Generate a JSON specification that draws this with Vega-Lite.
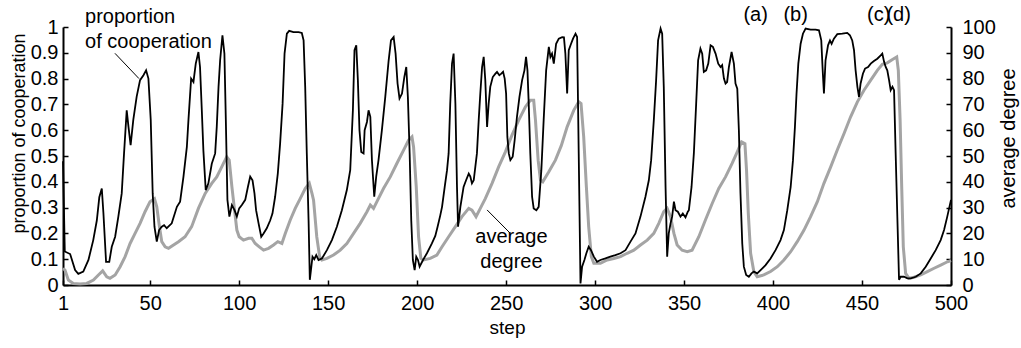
{
  "$schema": "https://vega.github.io/schema/vega-lite/v6.json",
  "width": 888,
  "height": 258,
  "autosize": {"type": "none"},
  "padding": {"left": 63, "top": 27, "right": 70, "bottom": 63},
  "background": "white",
  "config": {
    "view": {"stroke": null},
    "font": "Liberation Sans",
    "axis": {
      "labelFont": "Liberation Sans",
      "titleFont": "Liberation Sans",
      "labelFontSize": 20,
      "titleFontSize": 18,
      "titleFontWeight": "normal",
      "labelColor": "black",
      "titleColor": "black",
      "domainColor": "black",
      "tickColor": "black",
      "domainWidth": 2,
      "tickWidth": 1.5,
      "tickSize": -5,
      "grid": false,
      "labelFlush": false,
      "labelOverlap": false
    },
    "text": {"font": "Liberation Sans", "fontSize": 20, "color": "black"}
  },
  "datasets": {
    "coop": [
      {"step":1,"v":0.48},{"step":2,"v":0.13},{"step":5,"v":0.12},{"step":7.8,"v":0.058},{"step":9.6,"v":0.043},{"step":12.4,"v":0.052},{"step":15.3,"v":0.097},{"step":18,"v":0.174},{"step":20,"v":0.25},{"step":21.4,"v":0.34},{"step":22.8,"v":0.374},{"step":23.7,"v":0.28},{"step":25.2,"v":0.09},{"step":27,"v":0.09},{"step":28.4,"v":0.148},{"step":30.3,"v":0.187},{"step":32.1,"v":0.265},{"step":34,"v":0.355},{"step":35.3,"v":0.51},{"step":36.8,"v":0.677},{"step":37.8,"v":0.613},{"step":39,"v":0.542},{"step":40.5,"v":0.64},{"step":42.4,"v":0.73},{"step":44.3,"v":0.794},{"step":46.2,"v":0.813},{"step":47.7,"v":0.832},{"step":49,"v":0.8},{"step":50.3,"v":0.64},{"step":51.4,"v":0.355},{"step":52.4,"v":0.226},{"step":53.7,"v":0.168},{"step":55,"v":0.213},{"step":56.5,"v":0.226},{"step":57.8,"v":0.232},{"step":59.3,"v":0.22},{"step":62.1,"v":0.239},{"step":65,"v":0.303},{"step":66.8,"v":0.323},{"step":68.7,"v":0.42},{"step":70.6,"v":0.535},{"step":71.5,"v":0.64},{"step":73,"v":0.8},{"step":74.3,"v":0.787},{"step":75.6,"v":0.858},{"step":77.1,"v":0.903},{"step":78,"v":0.845},{"step":79,"v":0.677},{"step":79.9,"v":0.52},{"step":81.2,"v":0.368},{"step":82.7,"v":0.394},{"step":84.6,"v":0.47},{"step":86.5,"v":0.51},{"step":87.4,"v":0.613},{"step":88.4,"v":0.768},{"step":89.3,"v":0.871},{"step":90.6,"v":0.968},{"step":91.7,"v":0.897},{"step":92.5,"v":0.64},{"step":93.4,"v":0.33},{"step":94.5,"v":0.265},{"step":95.9,"v":0.31},{"step":97.4,"v":0.29},{"step":98.7,"v":0.265},{"step":100,"v":0.297},{"step":101.5,"v":0.31},{"step":103.4,"v":0.33},{"step":104.9,"v":0.38},{"step":106.2,"v":0.42},{"step":107.5,"v":0.406},{"step":108.6,"v":0.355},{"step":109.5,"v":0.29},{"step":110.9,"v":0.239},{"step":112.4,"v":0.187},{"step":113.7,"v":0.2},{"step":115.5,"v":0.22},{"step":117.4,"v":0.25},{"step":118.7,"v":0.277},{"step":120.2,"v":0.342},{"step":121.7,"v":0.432},{"step":123,"v":0.548},{"step":124.4,"v":0.703},{"step":125.5,"v":0.897},{"step":126.8,"v":0.974},{"step":128.1,"v":0.985},{"step":130.5,"v":0.98},{"step":133.4,"v":0.98},{"step":135.2,"v":0.977},{"step":136.2,"v":0.948},{"step":137.1,"v":0.768},{"step":138,"v":0.51},{"step":139,"v":0.25},{"step":139.7,"v":0.02},{"step":141.2,"v":0.11},{"step":142.2,"v":0.1},{"step":143.3,"v":0.116},{"step":144.6,"v":0.097},{"step":146.5,"v":0.103},{"step":149.3,"v":0.135},{"step":152.1,"v":0.174},{"step":154.9,"v":0.226},{"step":157.7,"v":0.29},{"step":160.5,"v":0.368},{"step":162.4,"v":0.445},{"step":163.9,"v":0.677},{"step":164.8,"v":0.91},{"step":165.8,"v":0.929},{"step":166.7,"v":0.794},{"step":167.6,"v":0.6},{"step":168.6,"v":0.516},{"step":169.9,"v":0.51},{"step":170.5,"v":0.6},{"step":171.8,"v":0.632},{"step":172.7,"v":0.677},{"step":173.7,"v":0.652},{"step":174.6,"v":0.484},{"step":175.9,"v":0.342},{"step":177,"v":0.42},{"step":178.3,"v":0.484},{"step":180.2,"v":0.6},{"step":182.1,"v":0.729},{"step":184,"v":0.871},{"step":185.3,"v":0.948},{"step":186.8,"v":0.961},{"step":187.9,"v":0.897},{"step":189,"v":0.781},{"step":190.1,"v":0.723},{"step":191.5,"v":0.742},{"step":192.8,"v":0.806},{"step":193.9,"v":0.845},{"step":194.8,"v":0.729},{"step":195.8,"v":0.51},{"step":196.7,"v":0.25},{"step":197.6,"v":0.097},{"step":198.6,"v":0.058},{"step":199.5,"v":0.11},{"step":200.5,"v":0.097},{"step":201.4,"v":0.071},{"step":203.3,"v":0.097},{"step":205.5,"v":0.123},{"step":208.3,"v":0.161},{"step":210.2,"v":0.19},{"step":211.5,"v":0.226},{"step":213,"v":0.27},{"step":214,"v":0.303},{"step":215.5,"v":0.38},{"step":216.8,"v":0.445},{"step":217.7,"v":0.51},{"step":218.6,"v":0.703},{"step":219.6,"v":0.858},{"step":220.5,"v":0.897},{"step":221.5,"v":0.703},{"step":222.4,"v":0.38},{"step":223,"v":0.226},{"step":224.3,"v":0.303},{"step":226.1,"v":0.38},{"step":227.5,"v":0.406},{"step":229,"v":0.432},{"step":229.9,"v":0.42},{"step":230.8,"v":0.394},{"step":231.8,"v":0.406},{"step":232.7,"v":0.458},{"step":233.6,"v":0.51},{"step":234.6,"v":0.639},{"step":235.5,"v":0.742},{"step":236.5,"v":0.845},{"step":237.4,"v":0.884},{"step":238.3,"v":0.794},{"step":239.3,"v":0.613},{"step":240.2,"v":0.703},{"step":241.1,"v":0.768},{"step":242.5,"v":0.806},{"step":244,"v":0.819},{"step":244.9,"v":0.826},{"step":246.2,"v":0.813},{"step":247.3,"v":0.819},{"step":248.3,"v":0.826},{"step":249.2,"v":0.8},{"step":250,"v":0.742},{"step":250.7,"v":0.574},{"step":251.5,"v":0.51},{"step":252.4,"v":0.484},{"step":253.7,"v":0.497},{"step":254.8,"v":0.561},{"step":256.1,"v":0.652},{"step":257.5,"v":0.729},{"step":259,"v":0.794},{"step":260.3,"v":0.832},{"step":261.2,"v":0.884},{"step":262,"v":0.832},{"step":262.7,"v":0.703},{"step":263.6,"v":0.51},{"step":264.6,"v":0.342},{"step":265.5,"v":0.297},{"step":267,"v":0.29},{"step":268.3,"v":0.303},{"step":269.8,"v":0.445},{"step":271.1,"v":0.639},{"step":272.5,"v":0.832},{"step":274,"v":0.923},{"step":274.9,"v":0.884},{"step":275.8,"v":0.897},{"step":276.8,"v":0.858},{"step":278.1,"v":0.935},{"step":279.6,"v":0.955},{"step":281.5,"v":0.961},{"step":282.5,"v":0.96},{"step":283.3,"v":0.897},{"step":284.3,"v":0.742},{"step":285.2,"v":0.91},{"step":286.5,"v":0.935},{"step":287.6,"v":0.955},{"step":289,"v":0.974},{"step":289.9,"v":0.961},{"step":290.8,"v":0.51},{"step":291.8,"v":0.006},{"step":292.7,"v":0.071},{"step":294,"v":0.097},{"step":295.1,"v":0.123},{"step":296.4,"v":0.148},{"step":297.7,"v":0.135},{"step":299.3,"v":0.11},{"step":301.1,"v":0.09},{"step":303,"v":0.097},{"step":305.8,"v":0.103},{"step":308.6,"v":0.11},{"step":311.4,"v":0.116},{"step":314.3,"v":0.123},{"step":317.1,"v":0.135},{"step":319.9,"v":0.168},{"step":322.7,"v":0.2},{"step":325.5,"v":0.265},{"step":328.3,"v":0.342},{"step":330.2,"v":0.406},{"step":331.5,"v":0.484},{"step":333,"v":0.639},{"step":334.3,"v":0.794},{"step":335.4,"v":0.948},{"step":336.8,"v":0.994},{"step":337.7,"v":0.974},{"step":338.6,"v":0.768},{"step":339.6,"v":0.38},{"step":340.5,"v":0.11},{"step":341.4,"v":0.2},{"step":342.4,"v":0.239},{"step":343.3,"v":0.265},{"step":344.3,"v":0.323},{"step":345.2,"v":0.29},{"step":346.5,"v":0.284},{"step":348,"v":0.265},{"step":349.3,"v":0.277},{"step":350.8,"v":0.262},{"step":352.1,"v":0.284},{"step":352.7,"v":0.29},{"step":354.2,"v":0.38},{"step":355.5,"v":0.51},{"step":356.8,"v":0.703},{"step":357.9,"v":0.871},{"step":359.2,"v":0.916},{"step":360.2,"v":0.897},{"step":361.1,"v":0.826},{"step":362.4,"v":0.832},{"step":363.6,"v":0.858},{"step":364.9,"v":0.929},{"step":366.2,"v":0.923},{"step":367.7,"v":0.897},{"step":369.2,"v":0.858},{"step":370.5,"v":0.845},{"step":371.4,"v":0.852},{"step":372.4,"v":0.8},{"step":373.3,"v":0.781},{"step":374.2,"v":0.787},{"step":375.2,"v":0.845},{"step":376.7,"v":0.903},{"step":378,"v":0.858},{"step":378.9,"v":0.781},{"step":379.9,"v":0.761},{"step":380.8,"v":0.6},{"step":381.7,"v":0.355},{"step":382.7,"v":0.161},{"step":383.6,"v":0.071},{"step":384.9,"v":0.039},{"step":386.4,"v":0.032},{"step":387.9,"v":0.045},{"step":389.2,"v":0.052},{"step":391.1,"v":0.045},{"step":393,"v":0.058},{"step":395.8,"v":0.077},{"step":398.6,"v":0.103},{"step":401.4,"v":0.135},{"step":404.2,"v":0.174},{"step":406.1,"v":0.213},{"step":408,"v":0.29},{"step":409.9,"v":0.38},{"step":411.2,"v":0.484},{"step":412.3,"v":0.613},{"step":413.2,"v":0.742},{"step":414.2,"v":0.858},{"step":415.5,"v":0.935},{"step":416.8,"v":0.974},{"step":418.3,"v":0.994},{"step":421.1,"v":0.99},{"step":423.9,"v":0.99},{"step":425.8,"v":0.987},{"step":427.1,"v":0.948},{"step":427.9,"v":0.832},{"step":428.6,"v":0.742},{"step":429.5,"v":0.871},{"step":430.9,"v":0.929},{"step":432,"v":0.948},{"step":432.9,"v":0.935},{"step":434.2,"v":0.955},{"step":436.1,"v":0.972},{"step":438.9,"v":0.974},{"step":441.7,"v":0.977},{"step":443.2,"v":0.968},{"step":444.5,"v":0.948},{"step":445.5,"v":0.91},{"step":446.4,"v":0.832},{"step":447.4,"v":0.768},{"step":448.3,"v":0.729},{"step":449.2,"v":0.781},{"step":450.5,"v":0.819},{"step":451.7,"v":0.839},{"step":453.4,"v":0.845},{"step":454.9,"v":0.858},{"step":456.7,"v":0.868},{"step":458.6,"v":0.877},{"step":460.5,"v":0.89},{"step":461.4,"v":0.897},{"step":462.4,"v":0.865},{"step":463.3,"v":0.845},{"step":464.2,"v":0.832},{"step":465.2,"v":0.794},{"step":466.1,"v":0.755},{"step":467.1,"v":0.768},{"step":468,"v":0.755},{"step":468.9,"v":0.51},{"step":469.9,"v":0.25},{"step":470.8,"v":0.02},{"step":471.7,"v":0.032},{"step":473.6,"v":0.032},{"step":475.5,"v":0.026},{"step":477.4,"v":0.026},{"step":480.2,"v":0.032},{"step":483,"v":0.045},{"step":485.8,"v":0.071},{"step":488.6,"v":0.103},{"step":491.4,"v":0.135},{"step":494.2,"v":0.174},{"step":496.1,"v":0.213},{"step":497.9,"v":0.265},{"step":500,"v":0.33}
    ],
    "deg": [
      {"step":1,"deg":6.5},{"step":2.1,"deg":5.8},{"step":4,"deg":1.9},{"step":6.8,"deg":0.6},{"step":10.6,"deg":0.4},{"step":14.3,"deg":0.6},{"step":18.1,"deg":1.9},{"step":20.9,"deg":3.9},{"step":23.3,"deg":5.5},{"step":25.6,"deg":3.2},{"step":27.4,"deg":2.6},{"step":30.3,"deg":3.9},{"step":33.1,"deg":7.1},{"step":35.9,"deg":11},{"step":38.7,"deg":16.1},{"step":41.5,"deg":20},{"step":44.3,"deg":23.9},{"step":47.1,"deg":28.4},{"step":49.9,"deg":32.3},{"step":52.4,"deg":33.5},{"step":53.7,"deg":30.3},{"step":55.2,"deg":22.6},{"step":56.5,"deg":16.8},{"step":58.4,"deg":14.8},{"step":60.3,"deg":14.2},{"step":63.1,"deg":15.5},{"step":65.9,"deg":16.8},{"step":69.6,"deg":18.7},{"step":73.3,"deg":22.6},{"step":77.1,"deg":29.7},{"step":80.9,"deg":35.5},{"step":84.6,"deg":39.4},{"step":87.4,"deg":41.9},{"step":90.2,"deg":45.8},{"step":93,"deg":49.7},{"step":94.4,"deg":48.4},{"step":95.9,"deg":38.1},{"step":97.4,"deg":29},{"step":98.7,"deg":21.3},{"step":100,"deg":18.7},{"step":102.4,"deg":17.4},{"step":105.3,"deg":18.1},{"step":107.1,"deg":18.1},{"step":109,"deg":16.1},{"step":111.3,"deg":14.8},{"step":113.7,"deg":13.5},{"step":116.5,"deg":14.2},{"step":119.3,"deg":15.5},{"step":121.7,"deg":16.8},{"step":124,"deg":16.1},{"step":125.9,"deg":20},{"step":128.7,"deg":25.2},{"step":131.5,"deg":29.7},{"step":134.3,"deg":33.5},{"step":137.1,"deg":37.4},{"step":139.4,"deg":39.4},{"step":140.9,"deg":35.5},{"step":141.8,"deg":32.9},{"step":143.6,"deg":18.7},{"step":145.2,"deg":11},{"step":146.5,"deg":9.7},{"step":149.3,"deg":10.3},{"step":153,"deg":11.6},{"step":156.8,"deg":13.5},{"step":160.5,"deg":16.1},{"step":164.3,"deg":20},{"step":168,"deg":23.9},{"step":171.8,"deg":28.4},{"step":173.7,"deg":31},{"step":175.5,"deg":29.7},{"step":177.4,"deg":32.3},{"step":181.1,"deg":37.4},{"step":184.9,"deg":41.9},{"step":188.6,"deg":47.1},{"step":192.4,"deg":52.3},{"step":195.2,"deg":56.1},{"step":197.1,"deg":57.4},{"step":198,"deg":53.5},{"step":199.5,"deg":38.1},{"step":200.8,"deg":18.7},{"step":202.1,"deg":10.3},{"step":203.6,"deg":9.7},{"step":207.4,"deg":10.3},{"step":211.1,"deg":11.6},{"step":214,"deg":14.8},{"step":217.7,"deg":18.7},{"step":221.5,"deg":22.6},{"step":225.2,"deg":26.5},{"step":229,"deg":29.7},{"step":230.8,"deg":29},{"step":233.1,"deg":26.5},{"step":235.5,"deg":29.7},{"step":238.3,"deg":33.5},{"step":242.1,"deg":39.4},{"step":245.8,"deg":45.8},{"step":249.6,"deg":51.6},{"step":253.3,"deg":58.1},{"step":257.1,"deg":63.9},{"step":260.8,"deg":69},{"step":263.6,"deg":71.6},{"step":265.5,"deg":71.6},{"step":266.5,"deg":63.9},{"step":268,"deg":48.4},{"step":269.3,"deg":40.6},{"step":270.6,"deg":40},{"step":274,"deg":43.9},{"step":277.7,"deg":48.4},{"step":281,"deg":54},{"step":284.3,"deg":61.3},{"step":288,"deg":67.7},{"step":290.8,"deg":71},{"step":292.1,"deg":70.3},{"step":293.6,"deg":57.4},{"step":295.1,"deg":38.1},{"step":296.4,"deg":22.6},{"step":297.9,"deg":11},{"step":299.3,"deg":8.4},{"step":303,"deg":8.4},{"step":306.8,"deg":9.7},{"step":310.5,"deg":10.3},{"step":314.3,"deg":11},{"step":318,"deg":12.3},{"step":321.8,"deg":13.5},{"step":325.5,"deg":15.5},{"step":329.3,"deg":17.4},{"step":333,"deg":20},{"step":335.8,"deg":23.9},{"step":338.6,"deg":28.4},{"step":340.5,"deg":29.7},{"step":342.4,"deg":26.5},{"step":344.3,"deg":20},{"step":346.1,"deg":15.5},{"step":348.9,"deg":13.5},{"step":351.8,"deg":12.9},{"step":354.5,"deg":13.5},{"step":358.3,"deg":18.7},{"step":362,"deg":25.2},{"step":365.8,"deg":31.6},{"step":369.5,"deg":37.4},{"step":373.3,"deg":41.9},{"step":377,"deg":47.1},{"step":379.9,"deg":51.6},{"step":382.3,"deg":55.5},{"step":384.2,"deg":54.8},{"step":385.1,"deg":44.5},{"step":386.1,"deg":27.7},{"step":387.4,"deg":12.3},{"step":389.2,"deg":5.2},{"step":391.1,"deg":3.2},{"step":394.8,"deg":3.9},{"step":398.6,"deg":5.2},{"step":402.4,"deg":7.1},{"step":406.1,"deg":9.7},{"step":409.9,"deg":12.9},{"step":413.6,"deg":16.8},{"step":417.4,"deg":21.3},{"step":421.1,"deg":26.5},{"step":424.9,"deg":32.3},{"step":428.6,"deg":39.4},{"step":432.4,"deg":45.8},{"step":436.1,"deg":52.3},{"step":439.9,"deg":58.7},{"step":443.6,"deg":65.2},{"step":447.4,"deg":71},{"step":451.1,"deg":75.5},{"step":454.9,"deg":79.4},{"step":458.6,"deg":83.2},{"step":461.4,"deg":85.5},{"step":464.2,"deg":86.1},{"step":467.1,"deg":87.4},{"step":469.5,"deg":88.4},{"step":470.4,"deg":83.2},{"step":471.4,"deg":63.9},{"step":472.3,"deg":38.1},{"step":473.2,"deg":14.8},{"step":474.5,"deg":4.5},{"step":476.4,"deg":2.6},{"step":479.2,"deg":3},{"step":483,"deg":3.9},{"step":486.7,"deg":5.2},{"step":490.5,"deg":6.5},{"step":494.2,"deg":7.7},{"step":498,"deg":9},{"step":500,"deg":9.5}
    ],
    "leftLabels": [
      {"step":13.4,"v":1.016,"label":"proportion"},
      {"step":13.4,"v":0.919,"label":"of cooperation"}
    ],
    "centerLabels": [
      {"step":253,"v":0.163,"label":"average"},
      {"step":253,"v":0.066,"label":"degree"},
      {"step":390.2,"v":1.023,"label":"(a)"},
      {"step":412.7,"v":1.023,"label":"(b)"},
      {"step":459.4,"v":1.023,"label":"(c)"},
      {"step":470.6,"v":1.023,"label":"(d)"}
    ],
    "pointers": [
      {"step":30.2,"v":0.898,"step2":43.7,"v2":0.8},
      {"step":239.3,"v":0.291,"step2":252.4,"v2":0.2}
    ]
  },
  "encoding": {
    "x": {
      "field": "step",
      "type": "quantitative",
      "scale": {"domain": [1, 500], "nice": false, "zero": false},
      "axis": {
        "values": [1, 50, 100, 150, 200, 250, 300, 350, 400, 450, 500],
        "title": "step",
        "titleFontSize": 19,
        "labelOverlap": false,
        "labelFlush": false,
        "labelPadding": 13,
        "titleBaseline": "alphabetic",
        "titleY": 48
      }
    }
  },
  "layer": [
    {
      "data": {"name": "deg"},
      "mark": {"type": "line", "color": "#a4a4a4", "strokeWidth": 3},
      "encoding": {
        "y": {
          "field": "deg",
          "type": "quantitative",
          "scale": {"domain": [0, 100], "nice": false, "zero": false},
          "axis": {
            "orient": "right",
            "values": [0, 10, 20, 30, 40, 50, 60, 70, 80, 90, 100],
            "format": "d",
            "labelOverlap": false,
            "labelFlush": false,
            "labelPadding": 16,
            "title": "average degree",
            "titleFontSize": 20,
            "titleAngle": -90,
            "titleBaseline": "alphabetic",
            "titleAlign": "center",
            "titleX": 63,
            "titleY": 111
          }
        }
      }
    },
    {
      "encoding": {
        "y": {
          "field": "v",
          "type": "quantitative",
          "scale": {"domain": [0, 1], "nice": false, "zero": false},
          "axis": {
            "orient": "left",
            "values": [0, 0.1, 0.2, 0.3, 0.4, 0.5, 0.6, 0.7, 0.8, 0.9, 1],
            "format": "~g",
            "labelOverlap": false,
            "labelFlush": false,
            "labelPadding": 10,
            "title": "proportion of cooperation",
            "titleAngle": -90,
            "titleBaseline": "alphabetic",
            "titleAlign": "center",
            "titleX": -39,
            "titleY": 106
          }
        }
      },
      "layer": [
        {
          "data": {"name": "coop"},
          "mark": {"type": "line", "color": "black", "strokeWidth": 1.8}
        },
        {
          "data": {"name": "pointers"},
          "mark": {"type": "rule", "color": "black", "strokeWidth": 1},
          "encoding": {
            "x2": {"field": "step2"},
            "y2": {"field": "v2"}
          }
        },
        {
          "data": {"name": "leftLabels"},
          "mark": {"type": "text", "align": "left", "baseline": "alphabetic"},
          "encoding": {"text": {"field": "label"}}
        },
        {
          "data": {"name": "centerLabels"},
          "mark": {"type": "text", "align": "center", "baseline": "alphabetic"},
          "encoding": {"text": {"field": "label"}}
        }
      ]
    }
  ],
  "resolve": {"scale": {"y": "independent"}}
}
